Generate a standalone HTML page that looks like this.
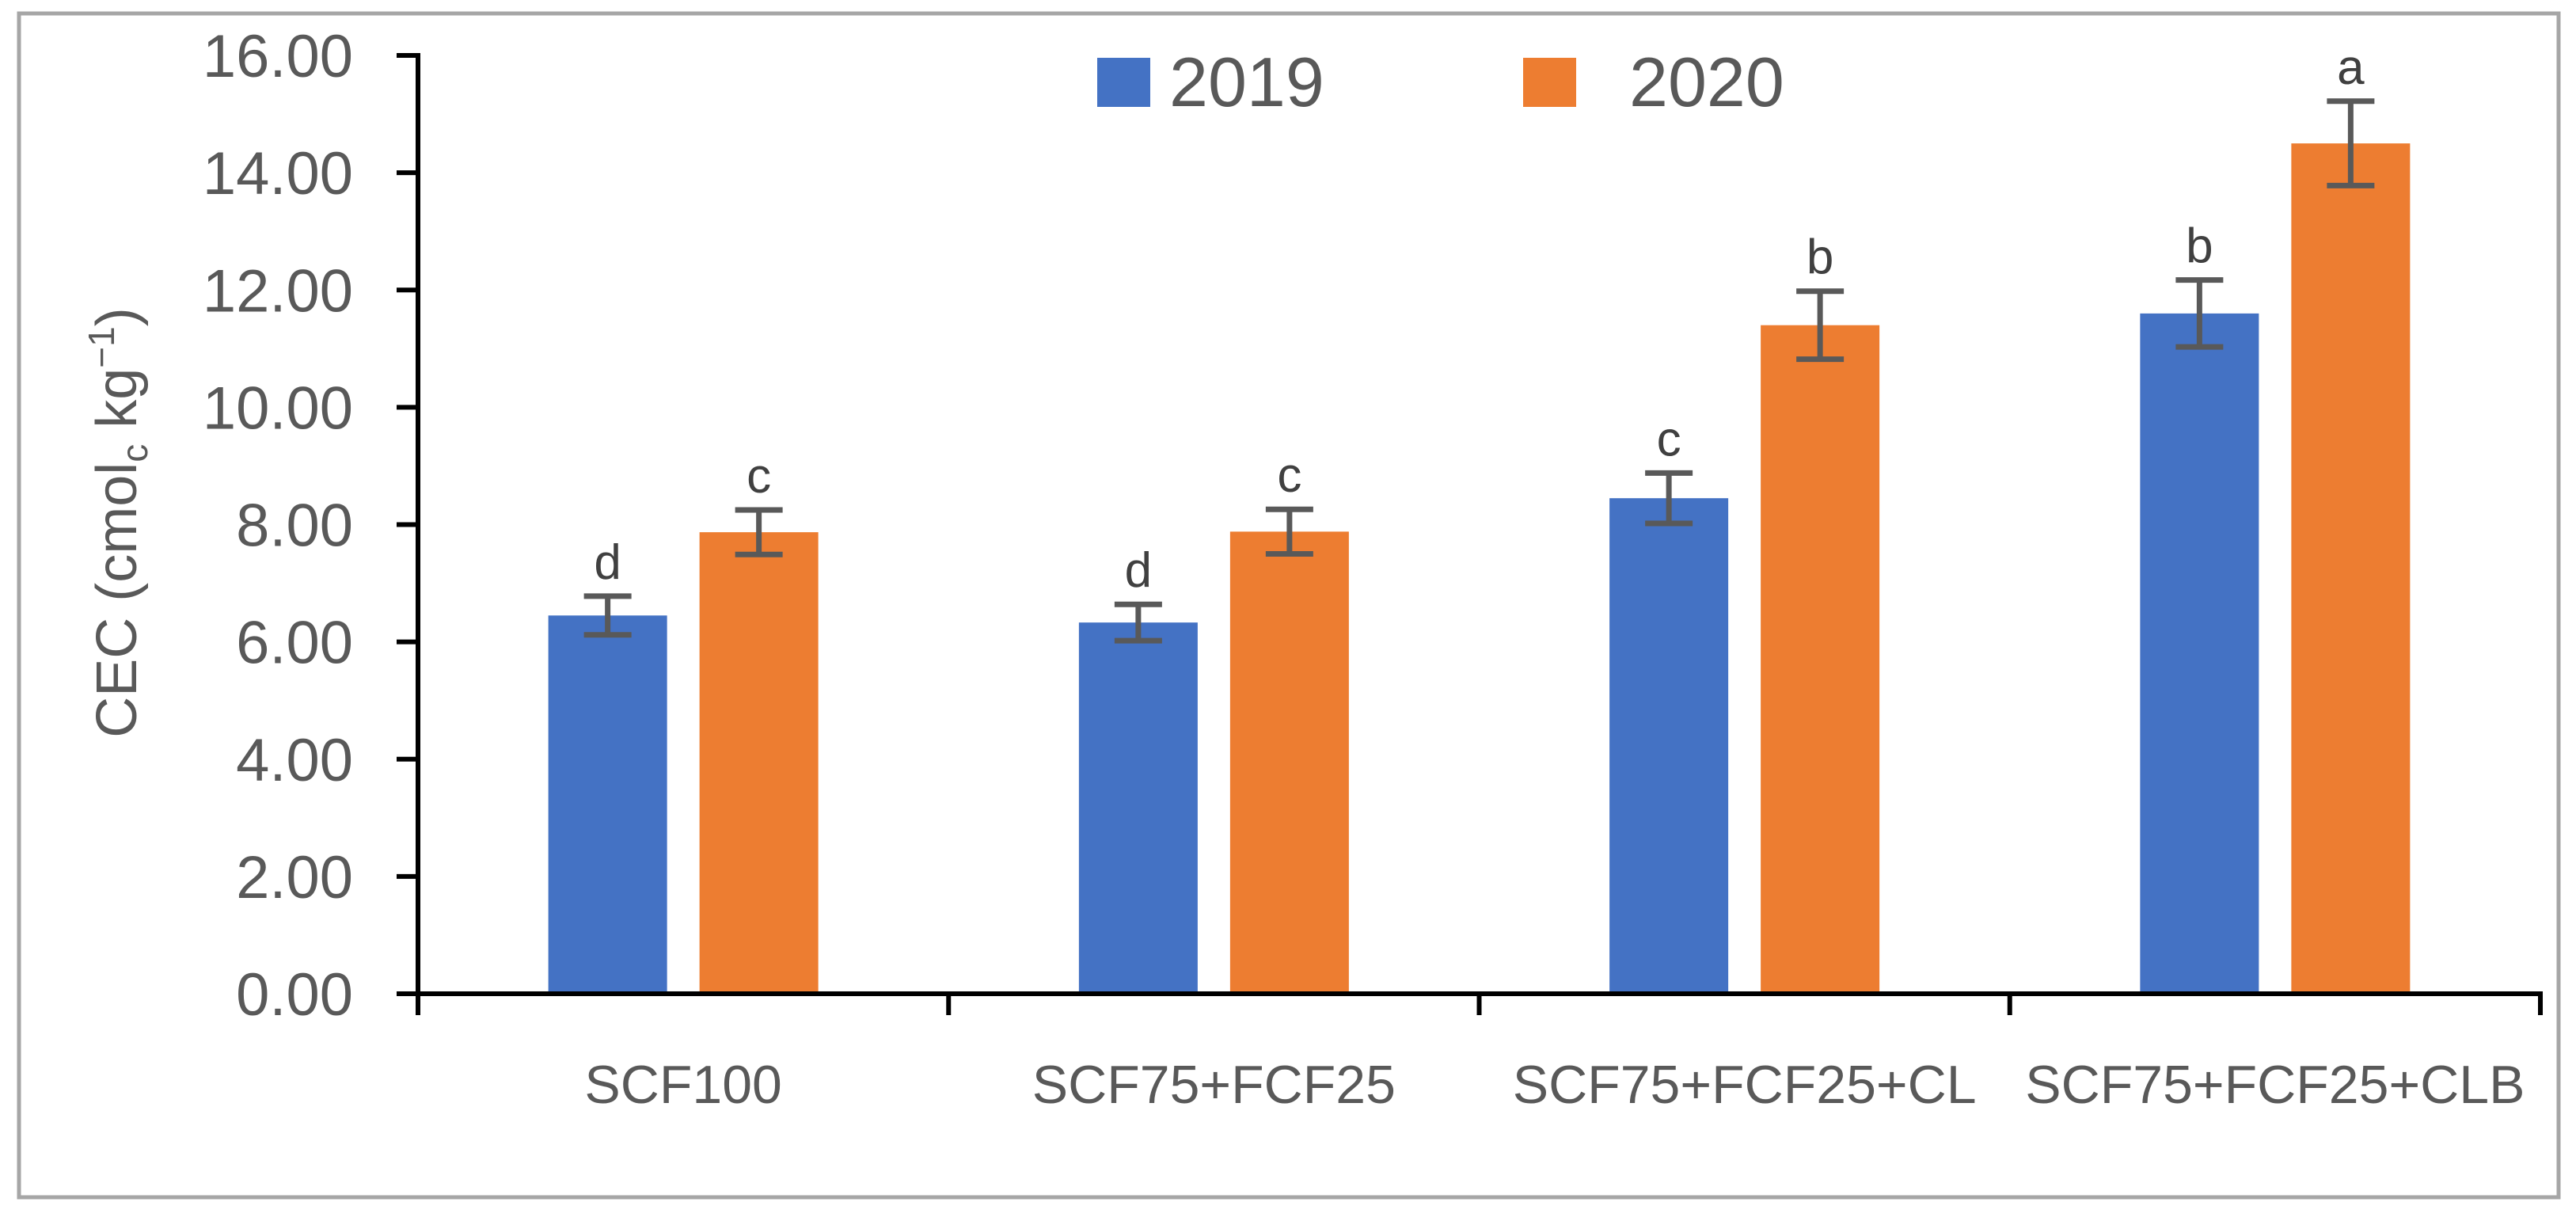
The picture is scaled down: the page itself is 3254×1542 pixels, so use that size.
<!DOCTYPE html>
<html><head><meta charset="utf-8"><style>
html,body{margin:0;padding:0;background:#fff;}
svg{display:block;font-family:"Liberation Sans",sans-serif;}
</style></head><body>
<svg id="chart" width="3254" height="1542" viewBox="0 0 3254 1542">
<rect x="24" y="17" width="3208" height="1495" fill="#fff" stroke="#a6a6a6" stroke-width="5"/>
<g id="plot"></g>
<text transform="translate(172,660) rotate(-90)" text-anchor="middle" font-size="72" fill="#595959">CEC (cmol<tspan font-size="46" dy="14">c</tspan><tspan dy="-14"> kg</tspan><tspan font-size="46" dy="-28">−1</tspan><tspan dy="28">)</tspan></text>
<g>
<rect x="1386" y="73" width="67" height="62" fill="#4472c4"/>
<text x="1477" y="134" font-size="88" fill="#595959">2019</text>
<rect x="1924" y="73" width="67" height="62" fill="#ed7d31"/>
<text x="2058" y="134" font-size="88" fill="#595959">2020</text>
</g>
</svg>
<script>
const categories = ["SCF100","SCF75+FCF25","SCF75+FCF25+CL","SCF75+FCF25+CLB"];
const values2019 = [6.45, 6.33, 8.45, 11.6];
const values2020 = [7.87, 7.88, 11.4, 14.5];
const errors2019 = [0.33, 0.31, 0.43, 0.57];
const errors2020 = [0.38, 0.38, 0.58, 0.72];
const letters2019 = ["d","d","c","b"];
const letters2020 = ["c","c","b","a"];
const yTicks = [0,2,4,6,8,10,12,14,16];
const yTickLabels = ["0.00","2.00","4.00","6.00","8.00","10.00","12.00","14.00","16.00"];

const NS = "http://www.w3.org/2000/svg";
const g = document.getElementById("plot");
const X0 = 528, X1 = 3209, Y0 = 1255, Y16 = 70;
const yScale = v => Y0 - (v / 16) * (Y0 - Y16);
const bandW = (X1 - X0) / categories.length;
const bandX = i => X0 + i * bandW;
const barW = 150, gap = 41;
function mk(tag, attrs) { const e = document.createElementNS(NS, tag); for (const k in attrs) e.setAttribute(k, attrs[k]); g.appendChild(e); return e; }

yTicks.forEach((t, i) => {
  const y = yScale(t);
  const tk = mk("line", {x1: 501, x2: X0, y1: y, y2: y, stroke: "#000", "stroke-width": 6});
  
  
  const lb = mk("text", {x: 446, y: y + 27, "text-anchor": "end", "font-size": 76, fill: "#595959"});
  lb.textContent = yTickLabels[i];
  
  
});

function bar(i, v, err, letter, color, offset, name) {
  const x = bandX(i) + bandW / 2 + offset;
  const r = mk("rect", {x: x, y: yScale(v), width: barW, height: Y0 - yScale(v), fill: color});
  
  
  const cx = x + barW / 2, yt = yScale(v + err), yb = yScale(v - err);
  const eb = mk("path", {d: `M${cx},${yt}V${yb}M${cx-30},${yt}H${cx+30}M${cx-30},${yb}H${cx+30}`, stroke: "#595959", "stroke-width": 7, fill: "none"});
  
  
  const t = mk("text", {x: cx, y: yt - 22, "text-anchor": "middle", "font-size": 62, fill: "#404040"});
  t.textContent = letter;
  
  
}
categories.forEach((c, i) => {
  bar(i, values2019[i], errors2019[i], letters2019[i], "#4472c4", -gap / 2 - barW, "bar-2019");
  bar(i, values2020[i], errors2020[i], letters2020[i], "#ed7d31", gap / 2, "bar-2020");
  const lb = mk("text", {x: bandX(i) + bandW / 2, y: 1393, "text-anchor": "middle", "font-size": 68, fill: "#595959"});
  lb.textContent = c;
  
  
});
for (let i = 0; i <= categories.length; i++) {
  const x = bandX(i);
  const tk = mk("line", {x1: x, x2: x, y1: Y0, y2: 1282, stroke: "#000", "stroke-width": 6});
  
  
}
const xa = mk("line", {x1: X0, x2: X1 + 3, y1: Y0, y2: Y0, stroke: "#000", "stroke-width": 6});


const ya = mk("line", {x1: X0, x2: X0, y1: Y16 - 3, y2: 1282, stroke: "#000", "stroke-width": 6});


</script>
</body></html>
